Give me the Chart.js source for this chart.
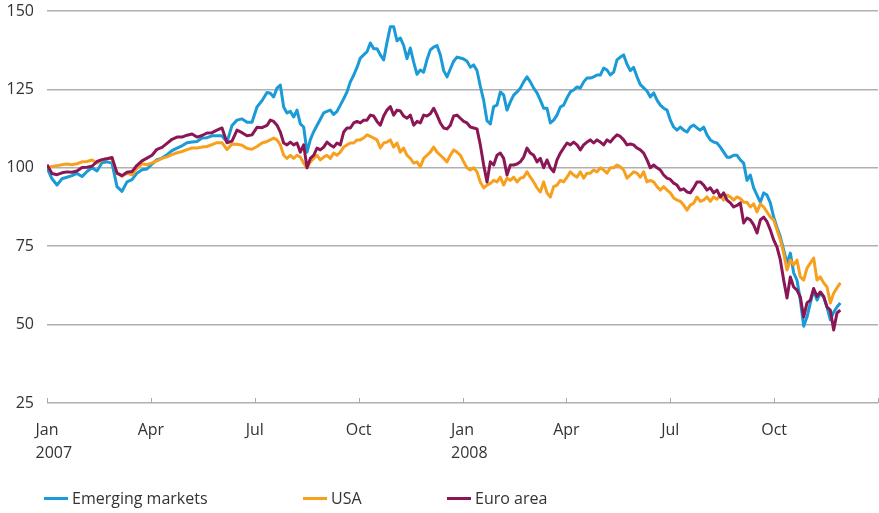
<!DOCTYPE html>
<html>
<head>
<meta charset="utf-8">
<script src="https://cdn.jsdelivr.net/npm/chart.js@4.4.1/dist/chart.umd.min.js"></script>
<style>
  body { margin: 0; background: #fff; }
  #wrap { position: relative; width: 879px; height: 513px; }
  #chart { position: absolute; left: 0; top: 0; }
  .item { position: absolute; top: 488px; display: flex; align-items: center;
          font: 16px "Open Sans", sans-serif; color: #333; line-height: 20px; }
  .swatch { display: inline-block; width: 24px; height: 3px; margin-right: 4px; }
</style>
</head>
<body>
<div id="wrap">
  <canvas id="chart" width="879" height="513"></canvas>
  <div class="item" style="left:44px"><span class="swatch" style="background:#1a9bd7"></span>Emerging markets</div>
  <div class="item" style="left:303px"><span class="swatch" style="background:#f7a01d"></span>USA</div>
  <div class="item" style="left:447px"><span class="swatch" style="background:#8b1655"></span>Euro area</div>
</div>
<script>
// sample points: every 3rd trading day to early Jul 2007, then every 2nd
const sampleDays = [];
for (let d = 0; d <= 132; d += 3) sampleDays.push(d);
for (let d = 134; d <= 476; d += 2) sampleDays.push(d);
const daysPerMonth = 20.775;

const monthNames = ['Jan', 'Apr', 'Jul', 'Oct'];
const yearNames = ['2007', '2008'];
const yTicks = [25, 50, 75, 100, 125, 150];

// index, 1 Jan 2007 = 100
const emerging = [
  100, 96.5, 94.5, 96.5, 97, 97.5, 98.2, 97.2, 98.8, 100,
  99, 101.6, 101.9, 101.5, 94, 92.5, 95.5, 96.2, 98.3, 99.4,
  99.6, 101.2, 102.6, 103.1, 104.2, 105.5, 106.3, 107, 108, 108.2,
  108.4, 109.5, 109.6, 110.2, 110.2, 110.2, 108.2, 113.5, 115.2, 115.6,
  114.5, 114.5, 119.4, 121.4, 124,
  123.8, 122.6, 125.4, 126.4, 119.4, 117.5, 118, 116.2, 118.4, 114,
  113, 105, 109, 111.5, 113.5, 115.5, 117.5, 118, 118.4, 117,
  118, 120, 122, 124.2, 127.4, 129.5, 132, 135, 136, 137,
  139.8, 138, 138, 136, 134.4, 140,
  145, 145, 140.5, 141.4, 139, 134.8, 138.2, 133.7, 129.8, 131.2,
  130.5, 134.5, 137.6, 138.5, 139, 136, 131, 129, 131.5, 134,
  135.3, 135, 134.7, 134, 132.1, 132.8, 131, 126, 121.5, 115,
  114, 119.5, 120,
  124.2, 123.2, 118.4, 121, 123.2, 124.2, 125.4, 127.4, 129, 127.4,
  125.4, 123.9, 121.6, 119, 119, 114.3, 115.2, 116.8, 119.4, 120,
  122.3, 124.2, 124.8, 125.8, 125.4, 127.4, 128.6, 128.6, 129, 129.6,
  129.6, 131.8, 131.2, 129.6, 130.5, 134.4,
  135.3, 136, 133, 131, 132, 129, 126.5, 125.5, 124.5, 122.6,
  123.9, 121.6, 120, 119, 118.4, 115.2, 113, 112, 113, 112,
  111.4, 113, 113.6, 112.7, 112, 113, 110.5, 108.9, 108.2, 107.9,
  106.6, 105, 103.4,
  103.4, 104, 104, 102.5, 101.5, 96, 97.7, 93.6, 91.3, 89,
  92, 91.3, 88.8, 84.3, 81, 78, 73.8, 69.6, 72.8, 66.5,
  64.2, 57.8, 49.5, 52.4, 56.9, 61, 57.8, 60, 58.8, 55.6,
  51.5, 54, 55.6, 56.9
];
const usa = [
  100, 100.4, 100.7, 101, 101.2, 101, 101.3, 101.9, 102, 102.5,
  101.5, 102.5, 103, 103, 98.3, 97.3, 98.3, 97.8, 99.8, 101.3,
  101, 101.6, 102.2, 103, 103.5, 104.2, 104.8, 105.2, 105.8, 106.3,
  106.3, 106.6, 106.8, 107.4, 108, 108, 105.8, 107.6, 107.5, 107.2,
  106.2, 105.9, 106.8, 107.9, 108.4,
  108.9, 109.5, 108.9, 107.3, 104, 103, 104, 103, 104, 103.4,
  101.5, 100, 101.9, 103, 104, 102.5, 103.4, 104, 103, 104.7,
  104, 105, 106.6, 107.3, 107.9, 107.9, 108.9, 108.9, 109.5, 110.5,
  110, 109.5, 108.9, 106.3, 107.9,
  108.2, 108.9, 106.6, 107.9, 105, 106.3, 104, 103, 101.5, 101.9,
  100.3, 103, 104, 105, 106.6, 105, 104, 103, 101.9, 104,
  105.7, 105, 104, 101.9, 100, 99.3, 100, 98.7, 95.5, 93.6,
  94.5, 95, 96, 95.5,
  97, 94.5, 96.7, 96, 97, 95.5, 96.7, 97, 98.7, 97,
  95.5, 93.6, 92.3, 95.5, 92, 90.7, 94, 94.5, 96, 95.5,
  97, 98.7, 97.7, 97, 98.7, 96.7, 98.3, 98.3, 99.3, 98.7,
  100, 99.3, 98.3, 100, 100, 100.9,
  100.3, 99.3, 96.7, 97.7, 98.7, 98.3, 97, 98.7, 95.5, 96,
  95.5, 94, 92.9, 94, 92.9, 92, 90.4, 89.7, 89.3, 88.1,
  86.5, 88.1, 88.7, 90.7, 89.3, 89.7, 90.7, 89.3, 90.7, 90,
  91.3, 89.7, 91.3,
  90.7, 89.7, 90.7, 90.2, 89, 89, 87.5, 88.5, 85.9, 88.5,
  87.5, 85.9, 84.3, 83.4, 80.2, 77, 72.8, 67.4, 70.6, 69,
  70.6, 65.2, 64.2, 68, 69.6, 71.2, 64.2, 65.2, 63.3, 62,
  56.9, 60, 61.7, 63.3
];
const euroArea = [
  101, 98.2, 97.8, 98.4, 98.7, 98.6, 99, 100.1, 100.2, 100.5,
  102, 102.6, 102.9, 103.3, 98.3, 97.5, 98.6, 98.8, 100.8, 102.2,
  103.1, 104, 105.9, 106.5, 107.8, 109.1, 109.8, 109.8, 110.4, 110.8,
  109.8, 110.3, 111.1, 111.2, 112, 112.7, 108, 108.5, 112, 111.2,
  110.2, 110.5, 112.9, 112.8, 113.5,
  115.2, 114.8, 113.6, 111.4, 107.9, 107.3, 108.2, 107.3, 107.9, 105,
  107.3, 100, 103, 104, 106.3, 105.7, 106.6, 108.2, 107.3, 106.6,
  107.9, 107.3, 111.4, 112.7, 112.7, 114.3, 114.8, 114.3, 115.2, 115.2,
  116.8, 116.5, 114.8, 113.6, 116.5,
  118.4, 119.5, 116.8, 118.4, 118.1, 116.5, 115.8, 116.8, 113.6, 114.8,
  114.3, 116.8, 116.5, 117.2, 119, 116.8, 114.3, 112.7, 112.4, 113.6,
  116.5, 116.8, 115.8, 114.8, 114.3, 113, 112.7, 112.4, 107.3, 100.9,
  95.5, 101.9, 100.9, 104,
  104.7, 103, 97.7, 100.9, 100.9, 101.2, 101.9, 103.4, 106.3, 104.7,
  104, 101.9, 103, 100, 102.5, 100, 98.7, 102.5, 104.7, 106.3,
  107.9, 107.3, 108.2, 107.3, 105.7, 107.3, 108.2, 108.9, 107.9, 108.9,
  108.2, 107.3, 108.9, 108.2, 109.5, 110.5,
  110, 108.9, 107.3, 107.6, 107.3, 106.3, 105.7, 104.7, 102.5, 100,
  100.9, 100, 99.3, 97.7, 96.7, 96.3, 95.1, 94.5, 92.9, 93.3,
  92.3, 92, 93.6, 95.5, 95.5, 94.5, 92.9, 93.6, 92, 92.9,
  90.7, 92, 89.7,
  88.8, 87.5, 88, 88.8, 82.4, 84, 83.4, 81.8, 79.2, 83.4,
  84.3, 82.8, 80.2, 77, 74.7, 70.6, 64.2, 58.5, 65.2, 62,
  61, 58.8, 52.4, 56.9, 57.8, 61.5, 59, 60.4, 59, 55.6,
  54.6, 48.3, 53.7, 54.6
];

function toPoints(values) {
  return values.map((v, i) => ({ x: sampleDays[i] / daysPerMonth, y: v }));
}

Chart.defaults.font.family = '"Open Sans", sans-serif';
Chart.defaults.font.size = 16;
Chart.defaults.color = '#333';

// small upward tick marks on the time axis + year under each January
const axisExtras = {
  id: 'axisExtras',
  afterDraw(chart) {
    const ctx = chart.ctx;
    const xs = chart.scales.x;
    const base = chart.chartArea.bottom;
    ctx.save();
    ctx.strokeStyle = '#a8a8a8';
    ctx.lineWidth = 1;
    for (let m = 0; m <= 24; m += 3) {
      const px = Math.round(xs.getPixelForValue(m)) + 0.5;
      ctx.beginPath();
      ctx.moveTo(px, base);
      ctx.lineTo(px, base - 5);
      ctx.stroke();
    }
    ctx.font = '16px "Open Sans", sans-serif';
    ctx.fillStyle = '#333';
    ctx.textAlign = 'left';
    ctx.textBaseline = 'middle';
    const janW = ctx.measureText('Jan').width;
    yearNames.forEach((yr, i) => {
      const px = xs.getPixelForValue(i * 12);
      ctx.fillText(yr, px - janW / 2, base + 50);
    });
    ctx.restore();
  }
};

new Chart(document.getElementById('chart'), {
  type: 'line',
  data: {
    datasets: [
      { label: 'Emerging markets', data: toPoints(emerging), borderColor: '#1a9bd7', order: 3 },
      { label: 'USA', data: toPoints(usa), borderColor: '#f7a01d', order: 2 },
      { label: 'Euro area', data: toPoints(euroArea), borderColor: '#8b1655', order: 1 }
    ]
  },
  options: {
    responsive: false,
    animation: false,
    devicePixelRatio: 1,
    elements: {
      point: { radius: 0 },
      line: { borderWidth: 3, tension: 0, borderJoinStyle: 'round' }
    },
    layout: { padding: { top: 11, right: 1, left: 0, bottom: 0 } },
    plugins: { legend: { display: false }, tooltip: { enabled: false } },
    scales: {
      x: {
        type: 'linear',
        min: 0,
        max: 24,
        grid: { display: false, drawTicks: false },
        border: { display: false },
        ticks: {
          stepSize: 3,
          padding: 18,
          maxRotation: 0,
          autoSkip: false,
          callback: v => (v < 24 ? monthNames[(v / 3) % 4] : '')
        },
        afterFit: s => { s.height = 110; s.paddingLeft = 0; s.paddingRight = 0; }
      },
      y: {
        min: 25,
        max: 150,
        afterBuildTicks: s => { s.ticks = yTicks.map(v => ({ value: v })); },
        grid: { color: '#b0b0b0', lineWidth: 1.5, drawTicks: false },
        border: { display: false },
        ticks: { padding: 13 },
        afterFit: s => { s.width = 47; s.paddingTop = 0; s.paddingBottom = 0; }
      }
    }
  },
  plugins: [axisExtras]
});
</script>
</body>
</html>
